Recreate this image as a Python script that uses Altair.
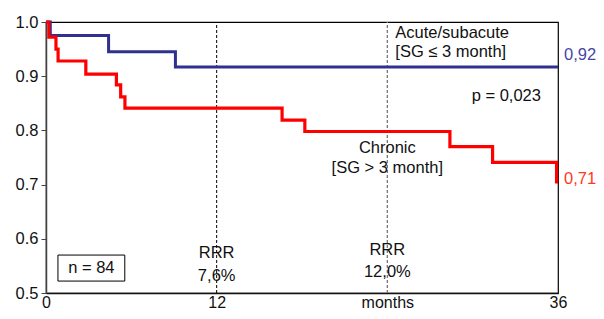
import altair as alt
import pandas as pd

# Kaplan-Meier style step data (months, survival)
blue_t = [0, 0.3, 4.4, 9.1, 36]
blue_s = [1.0, 0.975, 0.945, 0.917, 0.917]
red_t = [0, 0.2, 0.7, 0.85, 2.8, 4.95, 5.25, 5.55, 16.6, 18.2, 28.4, 31.4, 35.9, 36]
red_s = [1.0, 0.972, 0.95, 0.928, 0.904, 0.884, 0.862, 0.841, 0.819, 0.798, 0.770, 0.741, 0.705, 0.705]

x_ticks = [0, 12, 24, 36]
y_ticks = [0.5, 0.6, 0.7, 0.8, 0.9, 1.0]
rule_x = [12, 24]

FONT = "Liberation Sans"
FS = 16.5

blue_df = pd.DataFrame({"t": blue_t, "s": blue_s})
red_df = pd.DataFrame({"t": red_t, "s": red_s})

xs = alt.Scale(domain=[0, 36], nice=False, zero=False)
ys = alt.Scale(domain=[0.5, 1.0], nice=False, zero=False)

xaxis = alt.Axis(values=x_ticks, labelExpr="datum.value == 24 ? 'months' : datum.label",
                 title=None, grid=False, ticks=False, labelFontSize=16, labelFont=FONT,
                 labelColor="#111", labelPadding=1, domainColor="#111", domainWidth=1.5,
                 labelFlush=False)
yaxis = alt.Axis(values=y_ticks, format=".1f", title=None, grid=False, tickSize=5,
                 labelFontSize=FS, labelFont=FONT, labelColor="#111", labelPadding=3,
                 domainColor="#444", domainWidth=1.5, tickColor="#444", labelFlush=False)

base_x = alt.X("t:Q", scale=xs, axis=xaxis)
base_y = alt.Y("s:Q", scale=ys, axis=yaxis)

blue = alt.Chart(blue_df).mark_line(interpolate="step-after", color="#2e3192", strokeWidth=3).encode(
    x=base_x, y=base_y)
red = alt.Chart(red_df).mark_line(interpolate="step-after", color="#ff0000", strokeWidth=3.2).encode(
    x=alt.X("t:Q", scale=xs), y=alt.Y("s:Q", scale=ys))

rule12 = alt.Chart(pd.DataFrame({"t": [rule_x[0]], "s": [0.5], "s2": [1.0]})).mark_rule(
    color="#000", strokeDash=[3, 2], strokeWidth=1).encode(
    x=alt.X("t:Q", scale=xs), y=alt.Y("s:Q", scale=ys), y2="s2:Q")
rule24 = alt.Chart(pd.DataFrame({"t": [rule_x[1]], "s": [0.5], "s2": [1.0]})).mark_rule(
    color="#777", strokeDash=[3, 2], strokeWidth=1.3).encode(
    x=alt.X("t:Q", scale=xs), y=alt.Y("s:Q", scale=ys), y2="s2:Q")

box = alt.Chart(pd.DataFrame({"t": [0.84], "t2": [5.54], "s": [0.522], "s2": [0.570]})).mark_rect(
    fill="white", stroke="#000", strokeWidth=1).encode(
    x=alt.X("t:Q", scale=xs), x2="t2:Q", y=alt.Y("s:Q", scale=ys), y2="s2:Q")

def text_layer(ts, ss, texts, align="center", color="#111", dx=0):
    df = pd.DataFrame({"t": ts, "s": ss, "label": texts})
    return alt.Chart(df).mark_text(align=align, baseline="middle", font=FONT, fontSize=FS,
                                   color=color, dx=dx, clip=False).encode(
        x=alt.X("t:Q", scale=xs), y=alt.Y("s:Q", scale=ys), text="label:N")

t_acute = text_layer([24.56, 24.56], [0.980, 0.944], ["Acute/subacute", "[SG ≤ 3 month]"], align="left")
t_p = text_layer([34.8], [0.864], ["p = 0,023"], align="right")
t_chronic = text_layer([24.0, 24.0], [0.767, 0.731], ["Chronic", "[SG > 3 month]"])
t_rrr1 = text_layer([12, 12], [0.574, 0.532], ["RRR", "7,6%"])
t_rrr2 = text_layer([24, 24], [0.579, 0.539], ["RRR", "12,0%"])
t_n = text_layer([3.19], [0.546], ["n = 84"])
t_92 = text_layer([36], [0.939], ["0,92"], align="left", color="#4646a8", dx=6)
t_71 = text_layer([36], [0.711], ["0,71"], align="left", color="#ff3a1c", dx=6)

chart = alt.layer(
    rule12, rule24, box, blue, red,
    t_acute, t_p, t_chronic, t_rrr1, t_rrr2, t_n, t_92, t_71
).properties(
    width=512, height=271,
    autosize=alt.AutoSizeParams(type="none"),
    padding={"left": 38, "top": 14, "right": 38, "bottom": 18},
    background="white",
).configure_view(stroke="#000", strokeWidth=1.2)

chart.save("out.html", embed_options={"renderer": "svg", "actions": False})
